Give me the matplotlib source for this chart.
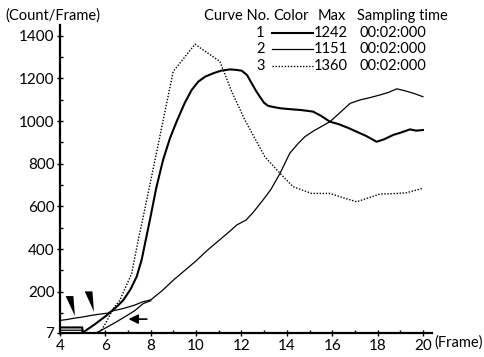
import matplotlib
matplotlib.use("Agg")
import matplotlib.pyplot as plt
from matplotlib.lines import Line2D
from matplotlib.patches import Polygon

plt.rcParams['font.family'] = ['Lato', 'DejaVu Sans']

# Curve 1: thick solid trace (max 1242)
frames_1 = [4.0, 4.5, 4.98, 5.0, 5.5, 6.0, 6.3, 6.55, 6.79, 7.1, 7.38, 7.6, 7.78,
            7.97, 8.25, 8.55, 8.85, 9.15, 9.5, 9.8, 10.1, 10.4, 10.76, 11.1, 11.49,
            11.75, 12.01, 12.25, 12.45, 12.65, 12.81, 13.0, 13.18, 13.45, 13.7,
            14.1, 14.58, 14.9, 15.16, 15.5, 15.9, 16.3, 16.7, 17.08, 17.5, 17.96,
            18.3, 18.69, 19.0, 19.43, 19.7, 20.0]
counts_1 = [33, 33, 33, 9, 45, 85, 112, 135, 161, 210, 271, 350, 443,
            540, 690, 820, 920, 1000, 1085, 1145, 1185, 1208, 1224, 1236, 1242,
            1240, 1236, 1215, 1177, 1140, 1114, 1085, 1071, 1065, 1060,
            1056, 1052, 1048, 1044, 1025, 997, 985, 968, 950, 930, 903,
            915, 935, 945, 961, 955, 958]

# Curve 2: thin solid trace (max 1151)
frames_2 = [4.0, 4.3, 4.6, 5.0, 5.4, 5.8, 6.1, 6.3, 6.8, 7.3, 7.64, 8.0, 8.5,
            9.0, 9.5, 10.0, 10.5, 11.0, 11.5, 11.79, 12.2, 12.5, 12.95, 13.3,
            13.7, 14.13, 14.5, 14.8, 15.2, 15.9, 16.4, 16.79, 17.23, 17.6, 18.1,
            18.5, 18.85, 19.2, 19.59, 20.0]
counts_2 = [66, 70, 76, 82, 90, 96, 100, 110, 122, 138, 153, 162, 205,
            255, 300, 345, 395, 440, 485, 513, 536, 570, 630, 680,
            755, 849, 895, 927, 955, 997, 1045, 1083, 1099, 1108, 1122,
            1135, 1151, 1142, 1130, 1114]

# Curve 3: dotted trace (max 1360)
frames_3 = [5.76, 6.05, 6.35, 6.64, 7.16, 7.45, 7.67, 8.19,
            8.99, 9.95, 11.05, 11.57, 12.15, 13.03, 13.7, 14.28, 15.09, 15.9,
            16.5, 17.08, 17.6, 18.1, 18.7, 19.28, 19.99]
counts_3 = [8, 60, 122, 161, 286, 443, 552, 818,
            1232, 1360, 1279, 1138, 1005, 833, 755, 692, 661, 661,
            640, 622, 640, 658, 660, 664, 685]

# Secondary baseline trace near the origin
frames_s = [4.0, 4.98, 5.0, 5.6, 6.0, 6.5, 7.0, 7.3, 7.67, 8.0]
counts_s = [20, 20, 8, 8, 30, 60, 92, 112, 145, 158]

curve_ids = ["1", "2", "3"]
curve_max = ["1242", "1151", "1360"]
sampling = ["00:02:000", "00:02:000", "00:02:000"]

x_ticks = [4, 6, 8, 10, 12, 14, 16, 18, 20]
y_ticks = [7, 200, 400, 600, 800, 1000, 1200, 1400]

W, H = 485, 357
fig = plt.figure(figsize=(W / 100, H / 100), dpi=100)
ax = fig.add_axes([60 / W, 24 / H, (432 - 60) / W, (333 - 25) / H])

ax.plot(frames_1, counts_1, color="black", lw=1.5, solid_joinstyle="round")
ax.plot(frames_2, counts_2, color="black", lw=0.9)
ax.plot(frames_3, counts_3, color="black", lw=1.0, linestyle=(0, (1, 1.2)))
ax.plot(frames_s, counts_s, color="black", lw=0.9)

ax.set_xlim(4, 20.4)
ax.set_ylim(7, 1450)
for s in ("top", "right"):
    ax.spines[s].set_visible(False)
for s in ("left", "bottom"):
    ax.spines[s].set_linewidth(1.6)

ax.set_xticks(x_ticks)
ax.set_xticklabels([str(t) for t in x_ticks])
ax.set_yticks(y_ticks)
ax.set_yticklabels([str(t) for t in y_ticks])
ax.set_xticks(range(5, 21, 2), minor=True)
ax.set_yticks(range(100, 1401, 200), minor=True)
ax.tick_params(axis="both", which="major", direction="inout", length=4, width=1,
               labelsize=11, pad=2)
ax.tick_params(axis="both", which="minor", direction="in", length=2.5, width=1)

# axis captions
fig.text(5 / W, 1 - 16 / H, "(Count/Frame)", fontsize=10.5, va="center", ha="left")
fig.text(434 / W, 1 - 343 / H, "(Frame)", fontsize=10.5, va="center", ha="left")

# wedge markers pointing at the early part of the traces
for tip, top in (((4.66, 86), (4.42, 180)), ((5.5, 106), (5.26, 202))):
    (tx, ty), (cx, cy) = tip, top
    tri = Polygon([(tx, ty), (cx - 0.17, cy), (cx + 0.17, cy)], closed=True,
                  color="black", lw=0)
    ax.add_patch(tri)
ax.annotate("", xy=(6.9, 72), xytext=(7.95, 72),
            arrowprops=dict(arrowstyle="-|>", color="black", lw=1.2,
                            mutation_scale=14))

# curve table
def fx(px):
    return px / W

def fy(py):
    return 1 - py / H

fs = 10.5
fig.text(fx(204), fy(16), "Curve No.", fontsize=fs, va="center")
fig.text(fx(273), fy(16), "Color", fontsize=fs, va="center")
fig.text(fx(318), fy(16), "Max", fontsize=fs, va="center")
fig.text(fx(357), fy(16), "Sampling time", fontsize=fs, va="center")
row_y = [33, 49, 66]
styles = [dict(lw=1.5, ls="-"), dict(lw=0.9, ls="-"), dict(lw=1.0, ls=(0, (1, 1.2)))]
for cid, mx, st, py, sty in zip(curve_ids, curve_max, sampling, row_y, styles):
    fig.text(fx(256), fy(py), cid, fontsize=fs, va="center")
    fig.add_artist(Line2D([fx(272), fx(313)], [fy(py), fy(py)], color="black",
                          transform=fig.transFigure, **sty))
    fig.text(fx(314), fy(py), mx, fontsize=fs, va="center")
    fig.text(fx(360), fy(py), st, fontsize=fs, va="center")

fig.savefig("out.png", dpi=100)
